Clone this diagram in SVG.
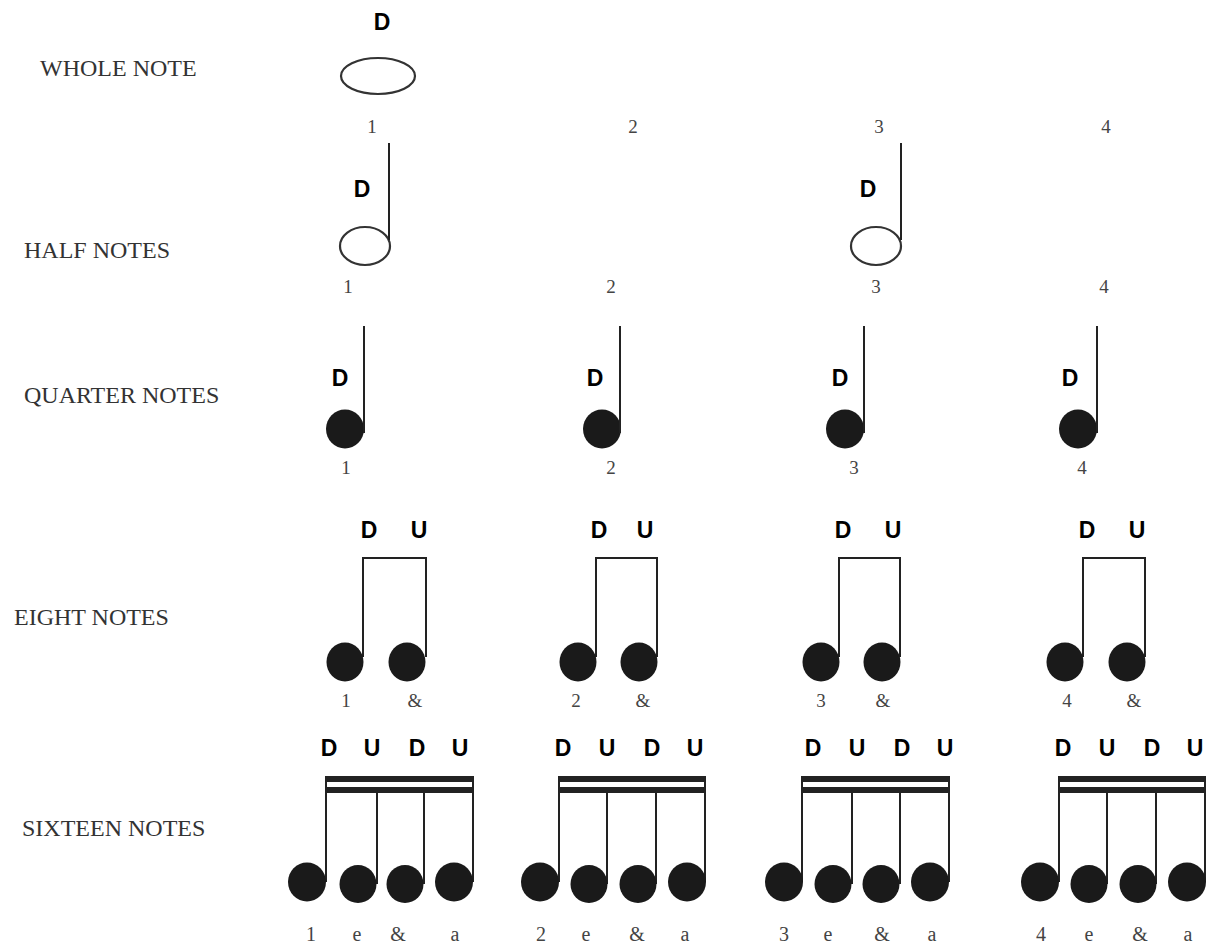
<svg xmlns="http://www.w3.org/2000/svg" width="1208" height="943" viewBox="0 0 1208 943">
<style>
.lbl{font-family:"Liberation Serif","Times New Roman",serif;font-size:24px;fill:#333}
.num{font-family:"Liberation Serif","Times New Roman",serif;font-size:19px;fill:#444;text-anchor:middle}
.num2{font-family:"Liberation Serif","Times New Roman",serif;font-size:20px;fill:#444;text-anchor:middle}
.st{font-family:"Liberation Sans",Arial,sans-serif;font-size:23px;font-weight:bold;fill:#000;text-anchor:middle}
.stem{stroke:#222;stroke-width:2;fill:none}
.open{fill:none;stroke:#333;stroke-width:2.2}
.head{fill:#1a1a1a}
.beam{fill:#222}
</style>
<rect width="1208" height="943" fill="#fff"/>

<g id="labels">
<text class="lbl" x="40" y="76">WHOLE NOTE</text>
<text class="lbl" x="24" y="258">HALF NOTES</text>
<text class="lbl" x="24" y="403">QUARTER NOTES</text>
<text class="lbl" x="14" y="625">EIGHT NOTES</text>
<text class="lbl" x="22" y="836">SIXTEEN NOTES</text>
</g>

<g id="whole-note">
<text class="st" x="382" y="30">D</text>
<ellipse class="open" cx="378" cy="76" rx="37" ry="18"/>
<text class="num" x="372" y="133">1</text>
<text class="num" x="633" y="133">2</text>
<text class="num" x="879" y="133">3</text>
<text class="num" x="1106" y="133">4</text>
</g>

<g id="half-notes">
<text class="st" x="362" y="197">D</text>
<ellipse class="open" cx="365" cy="246" rx="25" ry="19"/>
<line class="stem" x1="389" y1="143" x2="389" y2="240"/>
<text class="st" x="868" y="197">D</text>
<ellipse class="open" cx="876" cy="246" rx="25" ry="19"/>
<line class="stem" x1="901" y1="143" x2="901" y2="240"/>
<text class="num" x="348" y="293">1</text>
<text class="num" x="611" y="293">2</text>
<text class="num" x="876" y="293">3</text>
<text class="num" x="1104" y="293">4</text>
</g>

<g id="quarter-notes">
<text class="st" x="340" y="386">D</text>
<ellipse class="head" cx="345" cy="429" rx="19" ry="19.5"/>
<line class="stem" x1="364" y1="326" x2="364" y2="433"/>
<text class="num" x="346" y="474">1</text>

<text class="st" x="595" y="386">D</text>
<ellipse class="head" cx="602" cy="429" rx="19" ry="19.5"/>
<line class="stem" x1="620" y1="326" x2="620" y2="433"/>
<text class="num" x="611" y="474">2</text>

<text class="st" x="840" y="386">D</text>
<ellipse class="head" cx="845" cy="429" rx="19" ry="19.5"/>
<line class="stem" x1="864" y1="326" x2="864" y2="433"/>
<text class="num" x="854" y="474">3</text>

<text class="st" x="1070" y="386">D</text>
<ellipse class="head" cx="1078" cy="429" rx="19" ry="19.5"/>
<line class="stem" x1="1097" y1="326" x2="1097" y2="433"/>
<text class="num" x="1082" y="474">4</text>
</g>

<g id="eighth-notes">
<text class="st" x="369" y="538">D</text>
<text class="st" x="419" y="538">U</text>
<path class="stem" d="M363 657 V558 H426 V657"/>
<ellipse class="head" cx="345" cy="662" rx="18.5" ry="19.5"/>
<ellipse class="head" cx="407" cy="662" rx="18.5" ry="19.5"/>
<text class="num" x="346" y="707">1</text>
<text class="num" x="415" y="707">&amp;</text>

<text class="st" x="599" y="538">D</text>
<text class="st" x="645" y="538">U</text>
<path class="stem" d="M596 657 V558 H657 V657"/>
<ellipse class="head" cx="578" cy="662" rx="18.5" ry="19.5"/>
<ellipse class="head" cx="639" cy="662" rx="18.5" ry="19.5"/>
<text class="num" x="576" y="707">2</text>
<text class="num" x="643" y="707">&amp;</text>

<text class="st" x="843" y="538">D</text>
<text class="st" x="893" y="538">U</text>
<path class="stem" d="M839 657 V558 H900 V657"/>
<ellipse class="head" cx="821" cy="662" rx="18.5" ry="19.5"/>
<ellipse class="head" cx="882" cy="662" rx="18.5" ry="19.5"/>
<text class="num" x="821" y="707">3</text>
<text class="num" x="883" y="707">&amp;</text>

<text class="st" x="1087" y="538">D</text>
<text class="st" x="1137" y="538">U</text>
<path class="stem" d="M1083 657 V558 H1145 V657"/>
<ellipse class="head" cx="1065" cy="662" rx="18.5" ry="19.5"/>
<ellipse class="head" cx="1127" cy="662" rx="18.5" ry="19.5"/>
<text class="num" x="1067" y="707">4</text>
<text class="num" x="1134" y="707">&amp;</text>
</g>

<g id="sixteenth-1">
<text class="st" x="329" y="756">D</text>
<text class="st" x="372" y="756">U</text>
<text class="st" x="417" y="756">D</text>
<text class="st" x="460" y="756">U</text>
<rect class="beam" x="325" y="776" width="149" height="6"/>
<rect class="beam" x="325" y="787" width="149" height="6"/>
<line class="stem" x1="326" y1="776" x2="326" y2="882"/>
<line class="stem" x1="377" y1="787" x2="377" y2="884"/>
<line class="stem" x1="424" y1="787" x2="424" y2="884"/>
<line class="stem" x1="473" y1="776" x2="473" y2="882"/>
<ellipse class="head" cx="307" cy="882" rx="19" ry="19.5"/>
<ellipse class="head" cx="358" cy="884" rx="18.5" ry="19"/>
<ellipse class="head" cx="405" cy="884" rx="18.5" ry="19"/>
<ellipse class="head" cx="454" cy="882" rx="19" ry="19.5"/>
<text class="num2" x="311" y="941">1</text>
<text class="num2" x="357" y="941">e</text>
<text class="num2" x="398" y="941">&amp;</text>
<text class="num2" x="455" y="941">a</text>
</g>

<g id="sixteenth-2">
<text class="st" x="563" y="756">D</text>
<text class="st" x="607" y="756">U</text>
<text class="st" x="652" y="756">D</text>
<text class="st" x="695" y="756">U</text>
<rect class="beam" x="558" y="776" width="148" height="6"/>
<rect class="beam" x="558" y="787" width="148" height="6"/>
<line class="stem" x1="559" y1="776" x2="559" y2="882"/>
<line class="stem" x1="607" y1="787" x2="607" y2="884"/>
<line class="stem" x1="656" y1="787" x2="656" y2="884"/>
<line class="stem" x1="705" y1="776" x2="705" y2="882"/>
<ellipse class="head" cx="540" cy="882" rx="19" ry="19.5"/>
<ellipse class="head" cx="589" cy="884" rx="18.5" ry="19"/>
<ellipse class="head" cx="638" cy="884" rx="18.5" ry="19"/>
<ellipse class="head" cx="687" cy="882" rx="19" ry="19.5"/>
<text class="num2" x="541" y="941">2</text>
<text class="num2" x="586" y="941">e</text>
<text class="num2" x="637" y="941">&amp;</text>
<text class="num2" x="685" y="941">a</text>
</g>

<g id="sixteenth-3">
<text class="st" x="813" y="756">D</text>
<text class="st" x="857" y="756">U</text>
<text class="st" x="902" y="756">D</text>
<text class="st" x="945" y="756">U</text>
<rect class="beam" x="801" y="776" width="149" height="6"/>
<rect class="beam" x="801" y="787" width="149" height="6"/>
<line class="stem" x1="802" y1="776" x2="802" y2="882"/>
<line class="stem" x1="852" y1="787" x2="852" y2="884"/>
<line class="stem" x1="900" y1="787" x2="900" y2="884"/>
<line class="stem" x1="949" y1="776" x2="949" y2="882"/>
<ellipse class="head" cx="784" cy="882" rx="19" ry="19.5"/>
<ellipse class="head" cx="833" cy="884" rx="18.5" ry="19"/>
<ellipse class="head" cx="881" cy="884" rx="18.5" ry="19"/>
<ellipse class="head" cx="930" cy="882" rx="19" ry="19.5"/>
<text class="num2" x="784" y="941">3</text>
<text class="num2" x="828" y="941">e</text>
<text class="num2" x="882" y="941">&amp;</text>
<text class="num2" x="932" y="941">a</text>
</g>

<g id="sixteenth-4">
<text class="st" x="1063" y="756">D</text>
<text class="st" x="1107" y="756">U</text>
<text class="st" x="1152" y="756">D</text>
<text class="st" x="1195" y="756">U</text>
<rect class="beam" x="1058" y="776" width="148" height="6"/>
<rect class="beam" x="1058" y="787" width="148" height="6"/>
<line class="stem" x1="1059" y1="776" x2="1059" y2="882"/>
<line class="stem" x1="1107" y1="787" x2="1107" y2="884"/>
<line class="stem" x1="1156" y1="787" x2="1156" y2="884"/>
<line class="stem" x1="1205" y1="776" x2="1205" y2="882"/>
<ellipse class="head" cx="1040" cy="882" rx="19" ry="19.5"/>
<ellipse class="head" cx="1089" cy="884" rx="18.5" ry="19"/>
<ellipse class="head" cx="1138" cy="884" rx="18.5" ry="19"/>
<ellipse class="head" cx="1187" cy="882" rx="19" ry="19.5"/>
<text class="num2" x="1041" y="941">4</text>
<text class="num2" x="1089" y="941">e</text>
<text class="num2" x="1140" y="941">&amp;</text>
<text class="num2" x="1188" y="941">a</text>
</g>

<g id="connectors"></g>
</svg>
